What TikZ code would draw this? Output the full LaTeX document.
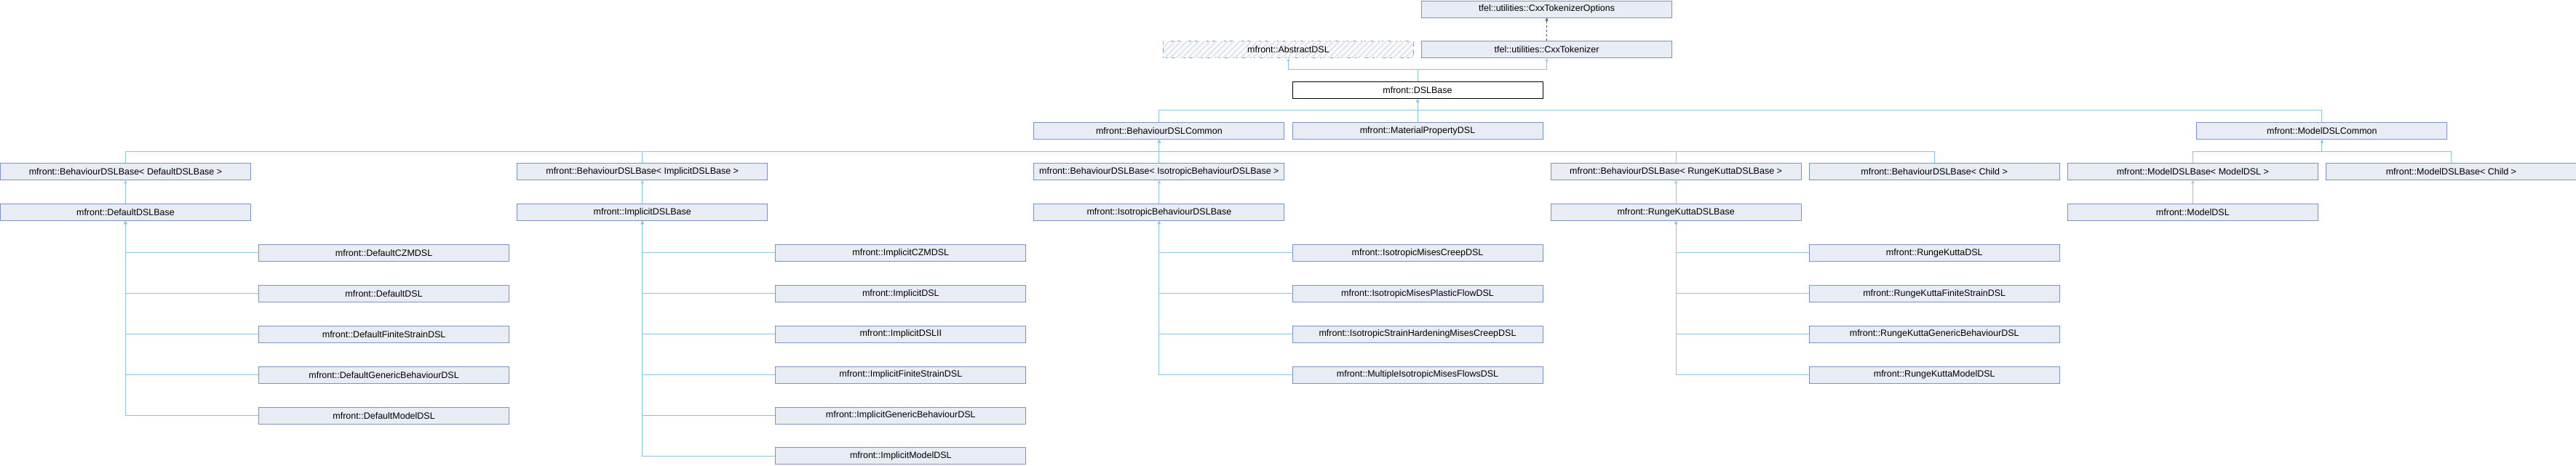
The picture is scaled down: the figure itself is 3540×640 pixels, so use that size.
\documentclass[tikz,border=0pt]{standalone}
\usepackage{fontspec}
\setmainfont{Liberation Sans}
\usetikzlibrary{arrows.meta,patterns.meta}
\definecolor{clsfill}{HTML}{E8ECF4}
\definecolor{clsline}{HTML}{7B92C8}
\definecolor{hatch}{HTML}{E3E8F2}
\definecolor{inhline}{HTML}{8DC6E8}
\definecolor{usedline}{HTML}{2A7A22}
\tikzset{
  cls/.style={draw=clsline, fill=clsfill, line width=1pt, minimum width=344pt, minimum height=23pt,
    inner sep=0pt, anchor=north west, font=\fontsize{12.5}{14}\selectfont},
  cur/.style={cls, draw=black, fill=white},
  virt/.style={cls, fill=none, dash pattern=on 7pt off 5pt,
    postaction={pattern={Lines[angle=45,distance=5.7pt,line width=2.8pt]}, pattern color=hatch}},
  inh/.style={draw=inhline, line width=1pt, -{Triangle[length=4pt,width=4pt]}},
  used/.style={draw=usedline, line width=1pt, dash pattern=on 3pt off 3pt, -{Triangle[length=4pt,width=4pt]}}
}
\begin{document}
\begin{tikzpicture}[x=355.1pt, y=-55.9pt]
	\useasboundingbox (0pt,0pt) rectangle (3540pt,-640pt);
	% bus levels
	\coordinate (bustop) at (0,1.717);
	\coordinate (busdsl) at (0,2.719);
	\coordinate (busbeh) at (0,3.721);
	% top
	\node[cls]  (opts)     at (5.5,0.01) {tfel::utilities::CxxTokenizerOptions};
	\node[virt] (abstract) at (4.5,1.01) {mfront::AbstractDSL};
	\node[cls]  (cxxtok)   at (5.5,1.01) {tfel::utilities::CxxTokenizer};
	\node[cur]  (dslbase)  at (5,2.01)   {mfront::DSLBase};
	\node[cls]  (behcommon)   at (4,3.01)   {mfront::BehaviourDSLCommon};
	\node[cls]  (matprop)     at (5,3.01)   {mfront::MaterialPropertyDSL};
	\node[cls]  (modelcommon) at (8.5,3.01) {mfront::ModelDSLCommon};
	% templates
	\node[cls] (bdbdefault)  at (0,4.01) {mfront::BehaviourDSLBase< DefaultDSLBase >};
	\node[cls] (bdbimplicit) at (2,4.01) {mfront::BehaviourDSLBase< ImplicitDSLBase >};
	\node[cls] (bdbiso)      at (4,4.01) {mfront::BehaviourDSLBase< IsotropicBehaviourDSLBase >};
	\node[cls] (bdbrk)       at (6,4.01) {mfront::BehaviourDSLBase< RungeKuttaDSLBase >};
	\node[cls] (bdbchild)    at (7,4.01) {mfront::BehaviourDSLBase< Child >};
	\node[cls] (mdbmodel)    at (8,4.01) {mfront::ModelDSLBase< ModelDSL >};
	\node[cls] (mdbchild)    at (9,4.01) {mfront::ModelDSLBase< Child >};
	% bases
	\node[cls] (defaultbase)  at (0,5.01) {mfront::DefaultDSLBase};
	\node[cls] (implicitbase) at (2,5.01) {mfront::ImplicitDSLBase};
	\node[cls] (isobase)      at (4,5.01) {mfront::IsotropicBehaviourDSLBase};
	\node[cls] (rkbase)       at (6,5.01) {mfront::RungeKuttaDSLBase};
	\node[cls] (modeldsl)     at (8,5.01) {mfront::ModelDSL};
	% leaves
	\node[cls] (dczm)     at (1,6.01)  {mfront::DefaultCZMDSL};
	\node[cls] (ddsl)     at (1,7.01)  {mfront::DefaultDSL};
	\node[cls] (dfinite)  at (1,8.01)  {mfront::DefaultFiniteStrainDSL};
	\node[cls] (dgeneric) at (1,9.01)  {mfront::DefaultGenericBehaviourDSL};
	\node[cls] (dmodel)   at (1,10.01) {mfront::DefaultModelDSL};
	\node[cls] (iczm)     at (3,6.01)  {mfront::ImplicitCZMDSL};
	\node[cls] (idsl)     at (3,7.01)  {mfront::ImplicitDSL};
	\node[cls] (idslii)   at (3,8.01)  {mfront::ImplicitDSLII};
	\node[cls] (ifinite)  at (3,9.01)  {mfront::ImplicitFiniteStrainDSL};
	\node[cls] (igeneric) at (3,10.01) {mfront::ImplicitGenericBehaviourDSL};
	\node[cls] (imodel)   at (3,11.01) {mfront::ImplicitModelDSL};
	\node[cls] (isocreep)   at (5,6.01) {mfront::IsotropicMisesCreepDSL};
	\node[cls] (isoplastic) at (5,7.01) {mfront::IsotropicMisesPlasticFlowDSL};
	\node[cls] (isostrain)  at (5,8.01) {mfront::IsotropicStrainHardeningMisesCreepDSL};
	\node[cls] (isomulti)   at (5,9.01) {mfront::MultipleIsotropicMisesFlowsDSL};
	\node[cls] (rkdsl)     at (7,6.01) {mfront::RungeKuttaDSL};
	\node[cls] (rkfinite)  at (7,7.01) {mfront::RungeKuttaFiniteStrainDSL};
	\node[cls] (rkgeneric) at (7,8.01) {mfront::RungeKuttaGenericBehaviourDSL};
	\node[cls] (rkmodel)   at (7,9.01) {mfront::RungeKuttaModelDSL};
	% connectors
	\draw[used] (cxxtok.north) -- (opts.south);
	\draw[inh] (dslbase.north) -- (dslbase.north |- bustop) -| (abstract.south);
	\draw[inh] (dslbase.north) -- (dslbase.north |- bustop) -| (cxxtok.south);
	\draw[inh] (behcommon.north) -- (behcommon.north |- busdsl) -| (dslbase.south);
	\draw[inh] (matprop.north) -- (dslbase.south);
	\draw[inh] (modelcommon.north) -- (modelcommon.north |- busdsl) -| (dslbase.south);
	\draw[inh] (bdbdefault.north)  -- (bdbdefault.north |- busbeh)  -| (behcommon.south);
	\draw[inh] (bdbimplicit.north) -- (bdbimplicit.north |- busbeh) -| (behcommon.south);
	\draw[inh] (bdbiso.north) -- (behcommon.south);
	\draw[inh] (bdbrk.north)       -- (bdbrk.north |- busbeh)       -| (behcommon.south);
	\draw[inh] (bdbchild.north)    -- (bdbchild.north |- busbeh)    -| (behcommon.south);
	\draw[inh] (mdbmodel.north) -- (mdbmodel.north |- busbeh) -| (modelcommon.south);
	\draw[inh] (mdbchild.north) -- (mdbchild.north |- busbeh) -| (modelcommon.south);
	\draw[inh] (defaultbase.north)  -- (bdbdefault.south);
	\draw[inh] (implicitbase.north) -- (bdbimplicit.south);
	\draw[inh] (isobase.north)      -- (bdbiso.south);
	\draw[inh] (rkbase.north)       -- (bdbrk.south);
	\draw[inh] (modeldsl.north)     -- (mdbmodel.south);
	\draw[inh] (dczm.west)     -| (defaultbase.south);
	\draw[inh] (ddsl.west)     -| (defaultbase.south);
	\draw[inh] (dfinite.west)  -| (defaultbase.south);
	\draw[inh] (dgeneric.west) -| (defaultbase.south);
	\draw[inh] (dmodel.west)   -| (defaultbase.south);
	\draw[inh] (iczm.west)     -| (implicitbase.south);
	\draw[inh] (idsl.west)     -| (implicitbase.south);
	\draw[inh] (idslii.west)   -| (implicitbase.south);
	\draw[inh] (ifinite.west)  -| (implicitbase.south);
	\draw[inh] (igeneric.west) -| (implicitbase.south);
	\draw[inh] (imodel.west)   -| (implicitbase.south);
	\draw[inh] (isocreep.west)   -| (isobase.south);
	\draw[inh] (isoplastic.west) -| (isobase.south);
	\draw[inh] (isostrain.west)  -| (isobase.south);
	\draw[inh] (isomulti.west)   -| (isobase.south);
	\draw[inh] (rkdsl.west)     -| (rkbase.south);
	\draw[inh] (rkfinite.west)  -| (rkbase.south);
	\draw[inh] (rkgeneric.west) -| (rkbase.south);
	\draw[inh] (rkmodel.west)   -| (rkbase.south);
\end{tikzpicture}
\end{document}
